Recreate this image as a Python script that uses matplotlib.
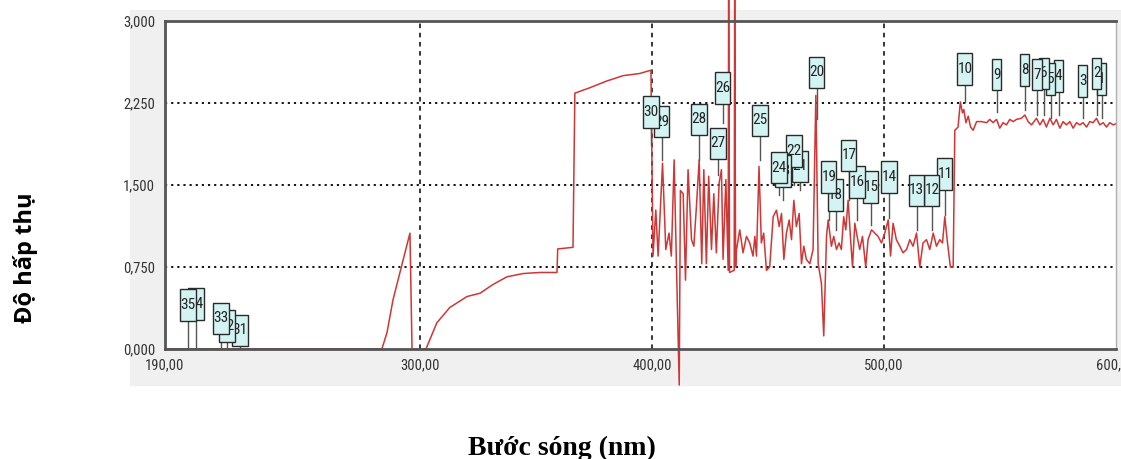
import matplotlib
matplotlib.use("Agg")
import matplotlib.pyplot as plt
from matplotlib import font_manager as fm
from matplotlib.patches import Rectangle

# --- du lieu pho hap thu (doc tu hinh) ---
wavelength = [
    190.0, 283.5, 285.7, 288.3, 292.6, 295.6, 296.5, 302.5, 307.2, 312.8,
    320.2, 325.8, 331.4, 337.4, 344.3, 351.6, 359.0, 359.3, 365.9, 366.7,
    373.2, 380.3, 387.5, 394.7, 399.5,
    400.4, 401.6, 402.6, 404.5, 405.9, 407.3, 408.3, 409.5, 410.5, 411.7,
    412.2, 413.4, 414.4, 415.5, 417.0, 418.0, 419.1, 420.3, 421.4, 422.3,
    423.4, 424.4, 425.6, 426.6, 427.7, 428.9, 429.9, 430.6, 431.8, 432.8,
    433.0, 433.4, 435.4, 435.6, 436.0, 436.4, 437.8, 439.2, 440.7, 442.1,
    443.5, 444.3, 445.0, 446.1, 447.1, 448.1, 449.3, 450.7, 452.2, 453.6,
    454.8, 455.8, 456.8, 457.9, 459.1, 460.1, 461.1, 462.2, 463.4, 464.4,
    465.4, 466.5, 468.0, 469.4, 470.6, 471.6, 473.0, 474.0, 475.2, 475.9,
    477.3, 478.3, 479.5, 480.6, 481.6, 482.6, 483.5, 484.5, 485.5, 486.4,
    487.4, 488.4, 489.5, 490.7, 492.1, 493.1, 494.6, 496.0, 497.4, 498.9,
    500.3, 501.8, 502.8, 503.9, 505.3, 506.8, 508.2, 509.7, 511.1, 512.5,
    514.0, 515.4, 516.8, 518.3, 519.7, 521.2, 522.6, 524.0, 525.2, 526.2,
    527.2, 528.6, 529.8, 530.5, 531.9, 532.9, 533.8, 534.4, 535.3, 536.3,
    537.3, 538.4, 539.9, 542.0, 544.2, 545.6, 547.0, 548.5, 549.9, 551.3,
    552.8, 554.2, 555.7, 557.1, 559.2, 560.7, 562.1, 563.6, 565.7, 567.2,
    568.6, 570.0, 571.5, 572.9, 574.3, 575.8, 577.2, 578.6, 580.1, 581.5,
    583.0, 584.4, 585.8, 587.3, 588.7, 590.1, 591.6, 593.0, 594.5, 595.9,
    597.3, 598.8, 600.0,
]
absorbance = [
    0.00, 0.00, 0.15, 0.45, 0.81, 1.06, 0.00, 0.00, 0.24, 0.38,
    0.48, 0.51, 0.59, 0.66, 0.69, 0.70, 0.70, 0.915, 0.93, 2.34,
    2.39, 2.45, 2.50, 2.52, 2.55,
    0.85, 1.27, 0.85, 1.70, 0.91, 1.06, 0.85, 1.73, 0.76, -0.33,
    1.45, 1.42, 0.63, 1.64, 1.00, 0.94, 1.30, 1.73, 0.78, 1.64,
    0.78, 1.58, 0.91, 1.42, 0.88, 1.52, 1.64, 0.82, 1.55, 0.72,
    3.30, 0.70, 0.72, 3.30, 0.75, 0.91, 1.09, 0.88, 1.03, 0.97,
    0.85, 1.03, 0.85, 1.67, 0.97, 1.06, 0.72, 0.75, 1.21, 1.27,
    1.12, 1.24, 0.82, 1.06, 1.18, 1.00, 1.36, 1.12, 1.24, 0.78,
    0.94, 0.82, 0.78, 0.91, 2.32, 0.78, 0.60, 0.12, 1.03, 1.18,
    0.94, 1.03, 0.91, 0.97, 0.91, 1.21, 1.09, 1.36, 1.03, 0.75,
    1.15, 1.03, 0.91, 1.03, 0.75, 1.00, 1.09, 1.06, 1.03, 0.97,
    1.06, 1.18, 0.85, 1.15, 1.00, 0.94, 0.88, 0.91, 1.00, 0.94,
    1.06, 0.75, 0.97, 1.00, 0.91, 1.06, 0.94, 1.00, 0.97, 1.21,
    1.00, 0.75, 0.75, 2.00, 2.03, 2.26, 2.16, 2.19, 2.07, 2.13,
    2.03, 2.00, 2.08, 2.08, 2.07, 2.10, 2.07, 2.10, 2.02, 2.07,
    2.05, 2.10, 2.08, 2.10, 2.11, 2.14, 2.08, 2.05, 2.11, 2.05,
    2.10, 2.03, 2.11, 2.05, 2.10, 2.02, 2.08, 2.05, 2.08, 2.02,
    2.07, 2.05, 2.07, 2.03, 2.08, 2.07, 2.11, 2.05, 2.07, 2.03,
    2.07, 2.05, 2.06,
]

# nhan dinh (so, buoc song, tam hop, chan que)
peak_ids = list(range(1, 36))
peak_nm = [593.9, 591.7, 585.7, 575.3, 571.9, 568.9, 565.9, 560.7, 548.6, 534.8,
           526.2, 520.6, 514.1, 502.1, 494.3, 488.3, 484.8, 479.2, 476.2, 471.0,
           463.7, 461.2, 456.4, 454.7, 446.5, 430.5, 428.4, 420.2, 404.2, 399.5,
           222.3, 216.7, 214.1, 203.4, 199.9]
label_y = [2.47, 2.52, 2.45, 2.50, 2.47, 2.52, 2.51, 2.55, 2.51, 2.56,
           1.60, 1.45, 1.45, 1.57, 1.48, 1.53, 1.77, 1.41, 1.57, 2.53,
           1.67, 1.81, 1.63, 1.66, 2.09, 2.39, 1.88, 2.10, 2.08, 2.17,
           0.17, 0.21, 0.28, 0.41, 0.40]
stem_y = [2.11, 2.14, 2.11, 2.14, 2.11, 2.14, 2.14, 2.19, 2.17, 2.26,
          1.23, 1.09, 1.09, 1.20, 1.13, 1.18, 1.36, 1.09, 1.18, 2.10,
          1.45, 1.50, 1.36, 1.41, 1.73, 2.07, 1.59, 1.73, 1.73, 1.87,
          0.0, 0.0, 0.0, 0.0, 0.0]

x_ticks = [190, 300, 400, 500, 600]
x_ticklabels = ["190,00", "300,00", "400,00", "500,00", "600,00"]
y_ticks = [0.0, 0.75, 1.5, 2.25, 3.0]
y_ticklabels = ["0,000", "0,750", "1,500", "2,250", "3,000"]

W, H = 1121, 459

# tim font chu hep neu co
installed = {f.name for f in fm.fontManager.ttflist}
narrow_font = None
for cand in ["Liberation Sans Narrow", "Arial Narrow", "Roboto Condensed",
             "Open Sans Condensed", "Noto Sans Condensed", "DejaVu Sans Condensed"]:
    if cand in installed:
        narrow_font = cand
        break
if narrow_font:
    narrow = [narrow_font, "DejaVu Sans"]
    box_fs, tick_fs = 11, 10.5
else:
    narrow = ["DejaVu Sans"]
    box_fs, tick_fs = 8, 8

fig = plt.figure(figsize=(W / 100, H / 100), dpi=100)
# nen xam cua anh chup man hinh
fig.patches.append(Rectangle((130 / W, 1 - 385 / H), 1 - 130 / W, 375 / H,
                             transform=fig.transFigure, color="#f0f0f0", zorder=-5))

ax = fig.add_axes([165 / W, 1 - 349 / H, 951 / W, 328 / H])
ax.set_xlim(190, 600)
ax.set_ylim(0, 3)
ax.set_facecolor("white")

for v in [0.75, 1.5, 2.25]:
    ax.axhline(v, color="black", lw=1.3, ls=(0, (1.2, 2.2)), zorder=1)
for v in [300, 400, 500]:
    ax.axvline(v, color="black", lw=1.1, ls=(0, (3, 3)), zorder=1)

ax.plot(wavelength, absorbance, color="#cf3636", lw=1.1, zorder=2, clip_on=False)

# hop nhan cac dinh
for i, nm, yc, ys in zip(peak_ids, peak_nm, label_y, stem_y):
    w = 6.6 if i >= 10 else 4.0
    h = 0.29
    ax.plot([nm, nm], [ys, yc - h / 2], color="#555555", lw=1.0, zorder=3)
    ax.add_patch(Rectangle((nm - w / 2, yc - h / 2), w, h, facecolor="#d4f3f3",
                           edgecolor="#2a2a2a", lw=1.0, zorder=4 + i * 0.01))
    ax.text(nm, yc, str(i), ha="center", va="center", fontsize=box_fs,
            family=narrow, color="#222222", zorder=4 + i * 0.01 + 0.005)

ax.set_xticks(x_ticks)
ax.set_xticklabels(x_ticklabels)
ax.set_yticks(y_ticks)
ax.set_yticklabels(y_ticklabels)
ax.tick_params(length=0, pad=7, labelsize=tick_fs, colors="#333333")
for lab in ax.get_xticklabels() + ax.get_yticklabels():
    lab.set_family(narrow)

for side in ["top", "left", "bottom"]:
    ax.spines[side].set_color("#555555")
    ax.spines[side].set_linewidth(2)
ax.spines["right"].set_color("#b0b0b0")
ax.spines["right"].set_linewidth(1)

fig.text(25 / W, 1 - 258 / H, "Độ hấp thụ", rotation=90, ha="center", va="center",
         fontsize=17, fontweight="bold", family=["Open Sans", "DejaVu Sans"])
fig.text(562 / W, 1 - 455 / H, "Bước sóng (nm)", ha="center", va="baseline",
         fontsize=20, fontweight="bold", family=["Liberation Serif", "DejaVu Serif"])

fig.savefig("out.png", dpi=100)
